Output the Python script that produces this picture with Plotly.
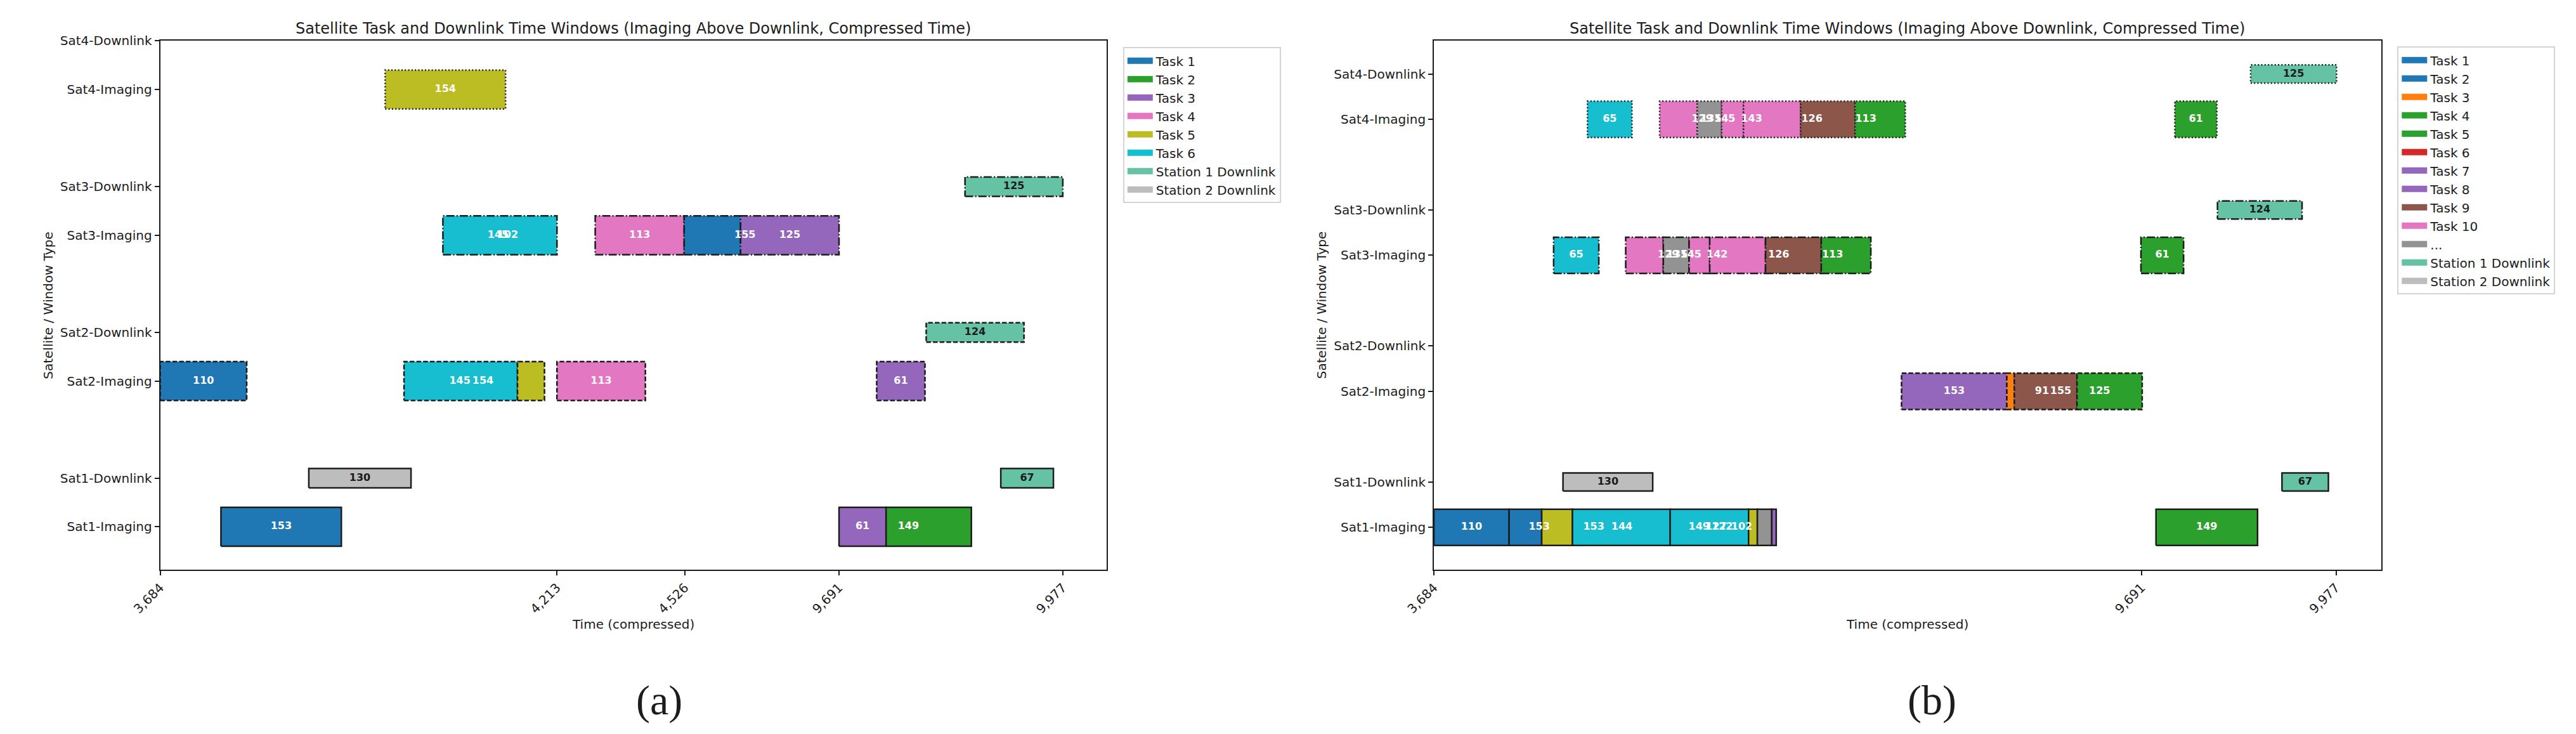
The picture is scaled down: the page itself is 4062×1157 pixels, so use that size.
import plotly.graph_objects as go

# ---------------- data ----------------
ROW_NAMES = ['Sat1-Imaging', 'Sat1-Downlink', 'Sat2-Imaging', 'Sat2-Downlink',
             'Sat3-Imaging', 'Sat3-Downlink', 'Sat4-Imaging', 'Sat4-Downlink']
ROW_POS = [0, 1, 3, 4, 6, 7, 9, 10]

# panel (a): compressed-time ticks
A_TICK_POS = [0, 419.2, 554.3, 717.2, 953.6]
A_TICK_TEXT = ['3,684', '4,213', '4,526', '9,691', '9,977']

A_ROW = ['Sat1-Imaging', 'Sat1-Imaging', 'Sat1-Imaging', 'Sat1-Downlink', 'Sat1-Downlink',
         'Sat2-Imaging', 'Sat2-Imaging', 'Sat2-Imaging', 'Sat2-Imaging', 'Sat2-Imaging',
         'Sat2-Downlink', 'Sat3-Imaging', 'Sat3-Imaging', 'Sat3-Imaging', 'Sat3-Imaging',
         'Sat3-Downlink', 'Sat4-Imaging']
A_START = [64.2, 717.2, 766.9, 157.0, 888.1,
           0.0, 257.6, 377.5, 419.2, 757.0,
           809.3, 298.7, 459.6, 553.6, 613.2,
           850.3, 237.7]
A_END = [191.4, 766.9, 857.0, 265.0, 943.7,
         91.4, 377.5, 406.0, 512.6, 808.0,
         912.6, 419.2, 553.6, 613.2, 717.2,
         953.6, 364.9]
A_KIND = ['T1', 'T3', 'T2', 'S2', 'S1',
          'T1', 'T6', 'T5', 'T4', 'T3',
          'S1', 'T6', 'T4', 'T1', 'T3',
          'S1', 'T5']
A_LABEL = ['153', '61', '', '130', '67',
           '110', '', '', '113', '61',
           '124', '', '113', '', '125',
           '125', '154']
# labels of windows that are partly hidden under other windows
A_XLAB_ROW = ['Sat1-Imaging', 'Sat2-Imaging', 'Sat2-Imaging', 'Sat3-Imaging', 'Sat3-Imaging',
              'Sat3-Imaging']
A_XLAB_T = [790.5, 316.6, 341.0, 357.0, 367.0, 617.9]
A_XLAB_TEXT = ['149', '145', '154', '145', '102', '155']
A_NTASK = 6
A_LEGEND_TASKS = ['T1', 'T2', 'T3', 'T4', 'T5', 'T6']

# panel (b)
B_TICK_POS = [0, 747.2, 952.4]
B_TICK_TEXT = ['3,684', '9,691', '9,977']

B_ROW = (['Sat1-Imaging'] * 9 + ['Sat1-Downlink'] * 2 + ['Sat2-Imaging'] * 4 +
         ['Sat3-Imaging'] * 8 + ['Sat3-Downlink'] + ['Sat4-Imaging'] * 8 + ['Sat4-Downlink'])
B_START = [0.0, 79.4, 113.8, 146.3, 249.5, 332.2, 341.5, 356.7, 762.4,
           136.3, 895.4,
           493.7, 604.9, 612.8, 679.0,
           126.4, 202.5, 242.2, 269.4, 291.2, 350.1, 409.0, 746.5,
           827.3,
           162.1, 238.3, 278.0, 303.8, 326.9, 387.2, 444.7, 782.3,
           862.3]
B_END = [79.4, 113.8, 146.3, 249.5, 332.2, 341.5, 356.7, 361.4, 869.6,
         231.0, 944.4,
         604.9, 612.8, 679.0, 747.8,
         174.1, 242.2, 269.4, 291.2, 350.1, 409.0, 461.3, 791.5,
         916.6,
         209.1, 278.0, 303.8, 326.9, 387.2, 444.7, 497.7, 826.6,
         953.0]
B_KIND = ['T1', 'T2', 'T13', 'T15', 'T16', 'T14', 'T12', 'T8', 'T5',
          'S2', 'S1',
          'T7', 'T3', 'T9', 'T4',
          'T15', 'T10', 'T12', 'T11', 'T10', 'T9', 'T4', 'T5',
          'S1',
          'T15', 'T10', 'T12', 'T11', 'T10', 'T9', 'T4', 'T5',
          'S1']
B_LABEL = ['110', '', '', '', '', '', '', '', '149',
           '130', '67',
           '153', '', '', '',
           '65', '', '', '', '', '', '', '61',
           '124',
           '65', '', '', '', '', '', '', '61',
           '125']
B_XLAB_ROW = (['Sat1-Imaging'] * 7 + ['Sat2-Imaging'] * 3 +
              ['Sat3-Imaging'] * 6 + ['Sat4-Imaging'] * 6)
B_XLAB_T = [111.2, 168.8, 198.5, 280.0, 297.8, 304.4, 325.0,
            642.0, 661.8, 702.8,
            247.5, 256.8, 271.3, 299.1, 364.0, 420.9,
            283.3, 292.5, 307.1, 335.5, 399.1, 456.0]
B_XLAB_TEXT = ['153', '153', '144', '149', '127', '122', '102',
               '91', '155', '125',
               '129', '135', '145', '142', '126', '113',
               '129', '135', '145', '143', '126', '113']
B_NTASK = 16
B_LEGEND_TASKS = ['T1', 'T2', 'T3', 'T4', 'T5', 'T6', 'T7', 'T8', 'T9', 'T10', 'T12']
B_LEGEND_NAMES = ['Task 1', 'Task 2', 'Task 3', 'Task 4', 'Task 5', 'Task 6', 'Task 7',
                  'Task 8', 'Task 9', 'Task 10', '...']

# ---------------- style ----------------
TAB10 = ['#1f77b4', '#ff7f0e', '#2ca02c', '#d62728', '#9467bd',
         '#8c564b', '#e377c2', '#939393', '#bcbd22', '#17becf']
STATION = {'S1': '#66c2a5', 'S2': '#bdbdbd'}
STATION_NAME = {'S1': 'Station 1 Downlink', 'S2': 'Station 2 Downlink'}
DASH = {'1': 'solid', '2': '7.4px,3.2px', '3': '12.8px,3.2px,2px,3.2px', '4': '2px,3.3px'}
EDGE = '#1c1c1c'
FONT = 'DejaVu Sans'
W, H = 4062, 1157


def kind_color(kind, ntask):
    if kind in STATION:
        return STATION[kind]
    k = int(kind[1:]) - 1
    idx = min(int(k / (ntask - 1) * 10 + 1e-9), 9)
    return TAB10[idx]


ROW_Y = dict(zip(ROW_NAMES, ROW_POS))

fig = go.Figure()


def add_panel(xa, ya, rows, starts, ends, kinds, labels, xrows, xts, xtexts, ntask):
    xref = 'x' if xa == 1 else 'x%d' % xa
    yref = 'y' if ya == 1 else 'y%d' % ya
    wt, wx, wy, bt, bx, by = [], [], [], [], [], []
    for r, s, e, k, lab in zip(rows, starts, ends, kinds, labels):
        yc = ROW_Y[r]
        h = 0.8 if 'Imaging' in r else 0.4
        sat = r[3]
        fig.add_trace(go.Scatter(
            x=[s, e, e, s, s], y=[yc - h / 2, yc - h / 2, yc + h / 2, yc + h / 2, yc - h / 2],
            mode='lines', fill='toself', fillcolor=kind_color(k, ntask),
            line=dict(color=EDGE, width=2.5, dash=DASH[sat]),
            xaxis=xref, yaxis=yref, showlegend=False, hoverinfo='skip'))
        if lab:
            if k in STATION:
                bt.append(lab); bx.append((s + e) / 2); by.append(yc)
            else:
                wt.append(lab); wx.append((s + e) / 2); wy.append(yc)
    for r, t, lab in zip(xrows, xts, xtexts):
        wt.append(lab); wx.append(t); wy.append(ROW_Y[r])
    for tx, xx, yy, col in ((wt, wx, wy, 'white'), (bt, bx, by, '#1a1a1a')):
        fig.add_trace(go.Scatter(
            x=xx, y=yy, text=tx, mode='text', textposition='middle center',
            textfont=dict(family=FONT, size=16, color=col, weight='bold'),
            xaxis=xref, yaxis=yref, showlegend=False, hoverinfo='skip'))


def add_legend(xa, ya, legend, names, colors):
    xref = 'x' if xa == 1 else 'x%d' % xa
    yref = 'y' if ya == 1 else 'y%d' % ya
    for n, c in zip(names, colors):
        fig.add_trace(go.Scatter(x=[None], y=[None], mode='lines', name=n,
                                 line=dict(color=c, width=14), legend=legend,
                                 xaxis=xref, yaxis=yref, hoverinfo='skip'))


add_panel(1, 1, A_ROW, A_START, A_END, A_KIND, A_LABEL, A_XLAB_ROW, A_XLAB_T, A_XLAB_TEXT, A_NTASK)
add_panel(2, 2, B_ROW, B_START, B_END, B_KIND, B_LABEL, B_XLAB_ROW, B_XLAB_T, B_XLAB_TEXT, B_NTASK)

add_legend(1, 1, 'legend',
           ['Task %s' % t[1:] for t in A_LEGEND_TASKS] + [STATION_NAME['S1'], STATION_NAME['S2']],
           [kind_color(t, A_NTASK) for t in A_LEGEND_TASKS] + [STATION['S1'], STATION['S2']])
add_legend(2, 2, 'legend2',
           B_LEGEND_NAMES + [STATION_NAME['S1'], STATION_NAME['S2']],
           [kind_color(t, B_NTASK) for t in B_LEGEND_TASKS] + [STATION['S1'], STATION['S2']])

# ---------------- layout ----------------
AX_L = (208, 1718)
AX_R = (2240, 3751)
AX_TOP, AX_BOT = 53, 895


def px(v):
    return v / W


def py(v):
    return 1 - v / H


axis_common = dict(showline=True, linecolor='#1c1c1c', linewidth=2, mirror=True,
                   ticks='outside', ticklen=7, tickwidth=1.6, tickcolor='#1c1c1c',
                   showgrid=False, zeroline=False,
                   tickfont=dict(family=FONT, size=20, color='#1c1c1c'))

title_text = 'Satellite Task and Downlink Time Windows (Imaging Above Downlink, Compressed Time)'

fig.update_layout(
    width=W, height=H, margin=dict(l=0, r=0, t=0, b=0),
    paper_bgcolor='white', plot_bgcolor='white',
    font=dict(family=FONT, size=20, color='#1c1c1c'),
    xaxis=dict(domain=[px(AX_L[0]), px(AX_L[1])], range=[0, 1000],
               tickvals=A_TICK_POS, ticktext=A_TICK_TEXT, tickangle=-45, anchor='y', **axis_common),
    yaxis=dict(domain=[py(AX_BOT), py(AX_TOP)], range=[-0.88, 10],
               tickvals=ROW_POS, ticktext=ROW_NAMES, anchor='x', **axis_common),
    xaxis2=dict(domain=[px(AX_R[0]), px(AX_R[1])], range=[0, 1000],
                tickvals=B_TICK_POS, ticktext=B_TICK_TEXT, tickangle=-45, anchor='y2', **axis_common),
    yaxis2=dict(domain=[py(AX_BOT), py(AX_TOP)], range=[-0.93, 10.73],
                tickvals=ROW_POS, ticktext=ROW_NAMES, anchor='x2', **axis_common),
    legend=dict(x=px(1744), y=py(63), xanchor='left', yanchor='top',
                bgcolor='white', bordercolor='#d4d4d4', borderwidth=2,
                font=dict(family=FONT, size=20, color='#1c1c1c'), itemwidth=40),
    legend2=dict(x=px(3777), y=py(62), xanchor='left', yanchor='top',
                 bgcolor='white', bordercolor='#d4d4d4', borderwidth=2,
                 font=dict(family=FONT, size=20, color='#1c1c1c'), itemwidth=40),
)

ann = []
for (l, r) in (AX_L, AX_R):
    cx = px((l + r) / 2)
    ann.append(dict(text=title_text, x=cx, y=py(33), xref='paper', yref='paper',
                    showarrow=False, xanchor='center', yanchor='middle',
                    font=dict(family=FONT, size=24, color='#1c1c1c')))
    ann.append(dict(text='Time (compressed)', x=cx, y=py(982), xref='paper', yref='paper',
                    showarrow=False, xanchor='center', yanchor='middle',
                    font=dict(family=FONT, size=20, color='#1c1c1c')))
    ann.append(dict(text='Satellite / Window Type', x=px(l - 179), y=py((AX_TOP + AX_BOT) / 2),
                    xref='paper', yref='paper', textangle=-90,
                    showarrow=False, xanchor='center', yanchor='middle',
                    font=dict(family=FONT, size=20, color='#1c1c1c')))
ann.append(dict(text='(a)', x=px(1004), y=py(1103), xref='paper', yref='paper', showarrow=False,
                xanchor='center', yanchor='middle',
                font=dict(family='Liberation Serif', size=66, color='#1c1c1c')))
ann.append(dict(text='(b)', x=px(3035), y=py(1103), xref='paper', yref='paper', showarrow=False,
                xanchor='center', yanchor='middle',
                font=dict(family='Liberation Serif', size=66, color='#1c1c1c')))
fig.update_layout(annotations=ann)

fig.write_html('out.html',
               config={'displayModeBar': False},
               post_script="document.body.style.margin='0';document.body.style.overflow='hidden';")
